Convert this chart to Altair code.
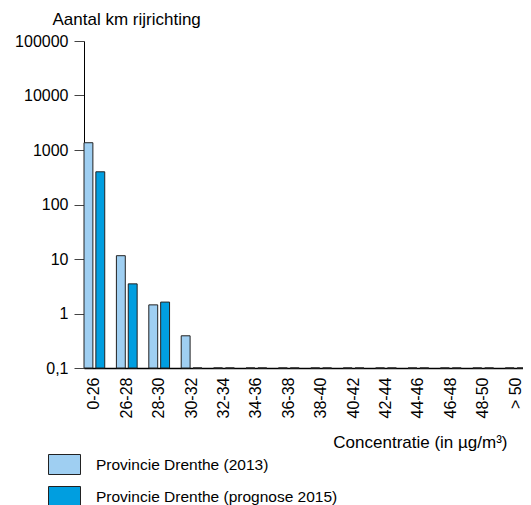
import altair as alt
import pandas as pd

categories = ["0-26", "26-28", "28-30", "30-32", "32-34", "34-36", "36-38",
              "38-40", "40-42", "42-44", "44-46", "46-48", "48-50", "> 50"]
series = ["Provincie Drenthe (2013)", "Provincie Drenthe (prognose 2015)"]
values_2013 = [1360, 11.5, 1.44, 0.39, 0, 0, 0, 0, 0, 0, 0, 0, 0, 0]
values_2015 = [398, 3.5, 1.62, 0, 0, 0, 0, 0, 0, 0, 0, 0, 0, 0]
colors = ["#9FCFF2", "#009EE0"]
y_ticks = [0.1, 1, 10, 100, 1000, 10000, 100000]

rows = []
for cat, a, b in zip(categories, values_2013, values_2015):
    rows.append({"cat": cat, "serie": series[0], "value": a})
    rows.append({"cat": cat, "serie": series[1], "value": b})
df = pd.DataFrame(rows)
df["plot"] = df["value"].clip(lower=0.1)
df["base"] = 0.1

FONT = "Liberation Sans"

chart = alt.Chart(df).mark_bar(stroke="#222222", strokeWidth=1).encode(
    x=alt.X("cat:N", sort=categories,
            scale=alt.Scale(paddingInner=0.36, paddingOuter=0, range=[0, 442]),
            axis=alt.Axis(title="Concentratie (in µg/m³)", labelAngle=-90,
                          labelAlign="right", labelBaseline="middle",
                          labelPadding=9, ticks=False, domainColor="#000000",
                          domainWidth=1.5, labelFontSize=16, labelColor="#000000",
                          titleFontSize=17, titleFontWeight="normal",
                          titleX=423, titleY=79, titleAlign="right",
                          titleBaseline="alphabetic", titleColor="#000000",
                          labelFont=FONT, titleFont=FONT)),
    xOffset=alt.XOffset("serie:N", sort=series,
                        scale=alt.Scale(paddingInner=0.25, paddingOuter=0)),
    y=alt.Y("plot:Q",
            scale=alt.Scale(type="log", domain=[0.1, 100000], nice=False),
            axis=alt.Axis(title="Aantal km rijrichting", values=y_ticks,
                          labelExpr="datum.value < 0.5 ? '0,1' : format(datum.value, 'd')",
                          grid=False, domainColor="#000000", tickColor="#444444",
                          tickSize=10, labelPadding=6, labelFontSize=16,
                          labelColor="#000000", titleFontSize=17,
                          titleFontWeight="normal", titleAngle=0, titleX=-32,
                          titleY=-17, titleAlign="left",
                          titleBaseline="alphabetic", titleColor="#000000",
                          labelFont=FONT, titleFont=FONT)),
    y2="base:Q",
    color=alt.Color("serie:N", sort=series,
                    scale=alt.Scale(domain=series, range=colors),
                    legend=alt.Legend(title=None, orient="none", legendX=-36,
                                      legendY=407, direction="vertical",
                                      symbolType="M-1,-0.625H1V0.625H-1Z",
                                      symbolSize=1024, symbolStrokeColor="#222222",
                                      symbolStrokeWidth=1, symbolOpacity=1,
                                      labelFontSize=15.5, labelFont=FONT,
                                      labelColor="#000000", labelOffset=15,
                                      labelLimit=400, rowPadding=3)),
).properties(
    width=439, height=327,
    autosize=alt.AutoSizeParams(type="none"),
    padding={"left": 76, "top": 33, "right": 0, "bottom": 137},
).configure_view(stroke=None)

chart.save("out.html", embed_options={"renderer": "svg", "actions": False})
